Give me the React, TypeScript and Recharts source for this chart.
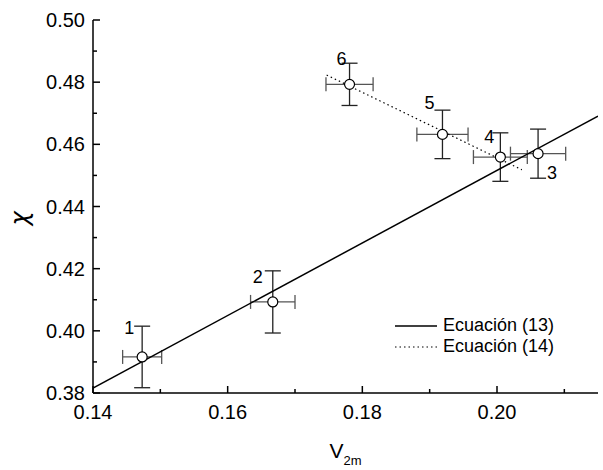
import React from "react";
import {
  ScatterChart,
  Scatter,
  XAxis,
  YAxis,
  ErrorBar,
  Legend,
} from "recharts";

// measured points (v2m, chi) with their error bars
const POINT_IDS = ["1", "2", "3", "4", "5", "6"];
const V2M = [0.1473, 0.1667, 0.2061, 0.2005, 0.1919, 0.1781];
const CHI = [0.3916, 0.4093, 0.457, 0.4559, 0.4632, 0.4793];
const V2M_ERR = [0.0029, 0.0033, 0.0041, 0.004, 0.0038, 0.0035];
const CHI_ERR = [0.0099, 0.01, 0.0079, 0.0078, 0.0078, 0.0068];

// fitted lines
const EQ13_X = [0.14, 0.215];
const EQ13_Y = [0.3816, 0.4691];
const EQ14_X = [0.1747, 0.2037];
const EQ14_Y = [0.4823, 0.4518];

const X_TICKS = [0.14, 0.15, 0.16, 0.17, 0.18, 0.19, 0.2, 0.21];
const Y_TICKS = [
  0.38, 0.39, 0.4, 0.41, 0.42, 0.43, 0.44, 0.45, 0.46, 0.47, 0.48, 0.49, 0.5,
];

const LEGEND_NAMES = ["Ecuación (13)", "Ecuación (14)"];

const FONT = "'Liberation Sans', Arial, Helvetica, sans-serif";

const points = POINT_IDS.map((id, i) => ({
  id,
  x: V2M[i],
  y: CHI[i],
  ex: V2M_ERR[i],
  ey: CHI_ERR[i],
}));
const eq13 = EQ13_X.map((x, i) => ({ x, y: EQ13_Y[i] }));
const eq14 = EQ14_X.map((x, i) => ({ x, y: EQ14_Y[i] }));

// where each point number sits relative to its marker
const LABEL_OFFSET: Record<string, [number, number]> = {
  "1": [-13, -29],
  "2": [-15, -25],
  "3": [14, 19],
  "4": [-11, -21],
  "5": [-13, -32],
  "6": [-8, -26],
};

const isMajor = (v: number) => Math.round(v * 100) % 2 === 0;

function makeXTick(side: "bottom" | "top") {
  return (props: any) => {
    const { x, y, payload } = props;
    const major = isMajor(payload.value);
    const len = major ? 7 : 4;
    const dir = side === "bottom" ? -1 : 1;
    return (
      <g>
        <line x1={x} y1={y} x2={x} y2={y + dir * len} stroke="#000" strokeWidth={1.5} />
        {side === "bottom" && major && (
          <text x={x} y={y + 26} textAnchor="middle" fontSize={20} fontFamily={FONT} fill="#000">
            {payload.value.toFixed(2)}
          </text>
        )}
      </g>
    );
  };
}

function makeYTick(side: "left" | "right") {
  return (props: any) => {
    const { x, y, payload } = props;
    const major = isMajor(payload.value);
    const len = major ? 7 : 4;
    const dir = side === "left" ? 1 : -1;
    return (
      <g>
        <line x1={x} y1={y} x2={x + dir * len} y2={y} stroke="#000" strokeWidth={1.5} />
        {side === "left" && major && (
          <text x={x - 8} y={y + 7} textAnchor="end" fontSize={20} fontFamily={FONT} fill="#000">
            {payload.value.toFixed(2)}
          </text>
        )}
      </g>
    );
  };
}

function PointShape(props: any) {
  const { cx, cy, payload } = props;
  const [dx, dy] = LABEL_OFFSET[payload.id] || [0, -20];
  return (
    <g>
      <circle cx={cx} cy={cy} r={5} fill="#fff" stroke="#000" strokeWidth={1.2} />
      <text
        x={cx + dx}
        y={cy + dy + 6.5}
        textAnchor="middle"
        fontSize={18}
        fontFamily={FONT}
        fill="#000"
      >
        {payload.id}
      </text>
    </g>
  );
}

function LegendBox() {
  return (
    <div style={{ fontFamily: FONT, fontSize: 18, lineHeight: "21px", color: "#000" }}>
      {LEGEND_NAMES.map((name, i) => (
        <div key={name} style={{ display: "flex", alignItems: "center", whiteSpace: "nowrap" }}>
          <svg width={48} height={21}>
            <line
              x1={0}
              y1={11}
              x2={42}
              y2={11}
              stroke="#000"
              strokeWidth={i === 0 ? 1.5 : 1.2}
              strokeDasharray={i === 0 ? undefined : "1.5 3"}
            />
          </svg>
          <span>{name}</span>
        </div>
      ))}
    </div>
  );
}

export default function App() {
  return (
    <div style={{ position: "absolute", left: 0, top: 0, background: "#fff" }}>
      <ScatterChart
        width={603}
        height={470}
        margin={{ top: 20, right: 5, bottom: 0, left: 0 }}
      >
        <XAxis
          xAxisId={0}
          type="number"
          dataKey="x"
          domain={[0.14, 0.215]}
          ticks={X_TICKS}
          interval={0}
          height={77}
          tickSize={0}
          tickMargin={0}
          tickLine={false}
          axisLine={{ stroke: "#000", strokeWidth: 1.5 }}
          tick={makeXTick("bottom")}
          allowDataOverflow
          label={{
            content: (p: any) => {
              const vb = p.viewBox;
              const cx = vb.x + vb.width / 2;
              return (
                <text x={cx - 16} y={vb.y + 65} fontFamily={FONT} fill="#000" fontSize={21}>
                  V
                  <tspan fontSize={13} dy={7}>
                    2m
                  </tspan>
                </text>
              );
            },
          }}
        />
        <XAxis
          xAxisId="top"
          orientation="top"
          type="number"
          dataKey="x"
          domain={[0.14, 0.215]}
          ticks={X_TICKS}
          interval={0}
          height={0}
          tickSize={0}
          tickMargin={0}
          tickLine={false}
          axisLine={{ stroke: "#000", strokeWidth: 1.5 }}
          tick={makeXTick("top")}
          allowDataOverflow
        />
        <YAxis
          yAxisId={0}
          type="number"
          dataKey="y"
          domain={[0.38, 0.5]}
          ticks={Y_TICKS}
          interval={0}
          width={93}
          tickSize={0}
          tickMargin={0}
          tickLine={false}
          axisLine={{ stroke: "#000", strokeWidth: 1.5 }}
          tick={makeYTick("left")}
          allowDataOverflow
          label={{
            content: (p: any) => {
              const vb = p.viewBox;
              const cy = vb.y + vb.height / 2 + 12;
              return (
                <text
                  x={28}
                  y={cy}
                  transform={`rotate(-90, 28, ${cy})`}
                  textAnchor="middle"
                  fontFamily="'DejaVu Sans', sans-serif"
                  fontStyle="italic"
                  fontSize={24}
                  fill="#000"
                >
                  χ
                </text>
              );
            },
          }}
        />
        <YAxis
          yAxisId="right"
          orientation="right"
          type="number"
          dataKey="y"
          domain={[0.38, 0.5]}
          ticks={Y_TICKS}
          interval={0}
          width={0}
          tickSize={0}
          tickMargin={0}
          tickLine={false}
          axisLine={{ stroke: "#000", strokeWidth: 1.5 }}
          tick={makeYTick("right")}
          allowDataOverflow
        />
        <Legend
          layout="vertical"
          align="center"
          verticalAlign="middle"
          content={() => <LegendBox />}
          wrapperStyle={{ left: 395, top: 315, width: 200, height: 44 }}
        />
        <Scatter
          name="Ecuación (13)"
          data={eq13}
          line={{ stroke: "#000", strokeWidth: 1.5 }}
          shape={() => null}
          isAnimationActive={false}
          legendType="none"
        />
        <Scatter
          name="Ecuación (14)"
          data={eq14}
          line={{ stroke: "#000", strokeWidth: 1.2, strokeDasharray: "1.5 3" }}
          shape={() => null}
          isAnimationActive={false}
          legendType="none"
        />
        <Scatter
          name="datos"
          data={points}
          shape={PointShape}
          isAnimationActive={false}
          legendType="none"
        >
          <ErrorBar dataKey="ex" direction="x" width={7} stroke="#555" strokeWidth={1.3} />
          <ErrorBar dataKey="ey" direction="y" width={8} stroke="#222" strokeWidth={1.3} />
        </Scatter>
      </ScatterChart>
    </div>
  );
}
